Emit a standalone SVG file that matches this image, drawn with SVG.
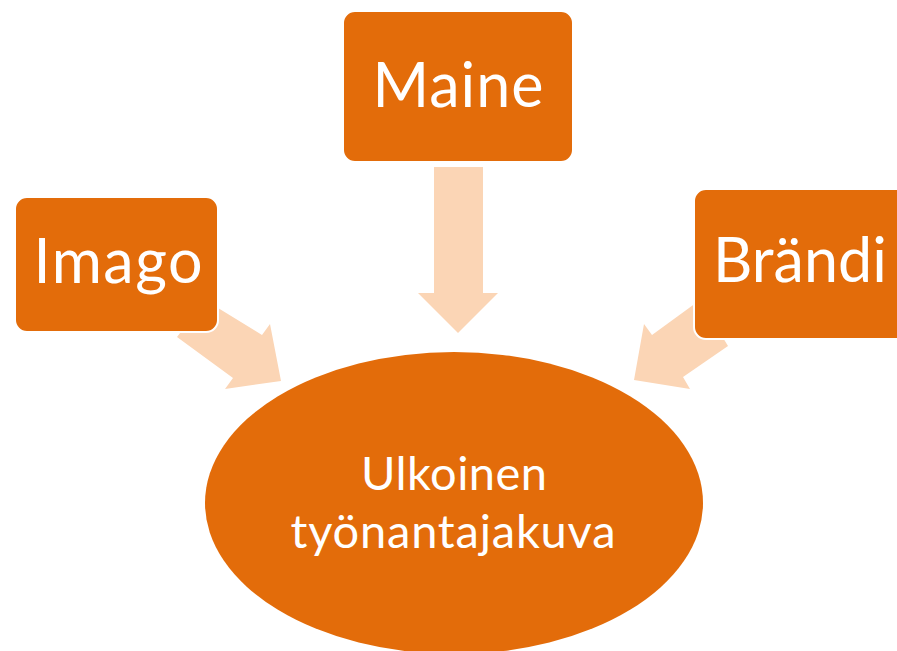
<svg xmlns="http://www.w3.org/2000/svg" width="897" height="651" viewBox="0 0 897 651">
<style>
.box{fill:#E36C0A;stroke:#FFFFFF;stroke-width:2}
.arrow{fill:#FBD5B5;stroke:none}
.lbl{fill:#FFFFFF;font-family:Lato,"Open Sans","Liberation Sans",sans-serif;text-anchor:middle}
.big{font-size:61px}
.mid{font-size:47px}
</style>
<rect width="897" height="651" fill="#FFFFFF"/>
<g id="connectors">
<polygon class="arrow" points="434,167 483,167 483,293 498,293 458,333 418,293 434,293"/>
<polygon class="arrow" points="205,300 262,335 270,324 281,381 225,389 233,378 177,337"/>
<polygon class="arrow" points="700,300 652,335 644,324 634,380 690,389 683,377 728,346"/>
</g>
<g id="ellipse-node">
<ellipse cx="454" cy="503" rx="249" ry="151" fill="#E36C0A"/>
<text class="lbl mid" x="454" y="490" textLength="186">Ulkoinen</text>
<text class="lbl mid" x="453" y="548" textLength="325">työnantajakuva</text>
</g>
<g id="maine">
<rect class="box" x="343" y="11" width="230" height="151" rx="12"/>
<text class="lbl big" x="458" y="107" textLength="171">Maine</text>
</g>
<g id="imago">
<rect class="box" x="15" y="197" width="203" height="135" rx="12"/>
<text class="lbl big" x="118" y="283" textLength="169">Imago</text>
</g>
<g id="brandi">
<rect class="box" x="694" y="189" width="215" height="150" rx="12"/>
<text class="lbl big" x="800" y="282" textLength="174">Brändi</text>
</g>
</svg>
